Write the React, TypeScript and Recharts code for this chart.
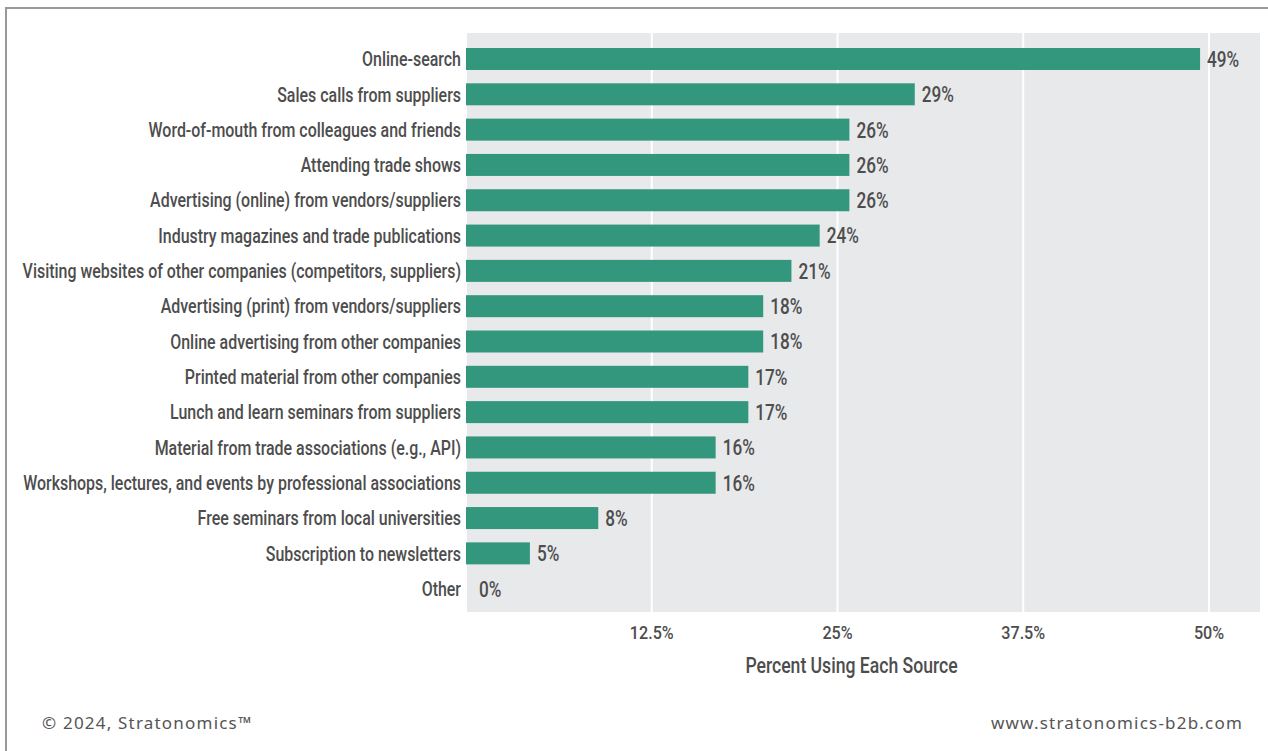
import { BarChart, Bar, XAxis, YAxis, CartesianGrid, LabelList } from 'recharts'

const categories = [
  'Online-search',
  'Sales calls from suppliers',
  'Word-of-mouth from colleagues and friends',
  'Attending trade shows',
  'Advertising (online) from vendors/suppliers',
  'Industry magazines and trade publications',
  'Visiting websites of other companies (competitors, suppliers)',
  'Advertising (print) from vendors/suppliers',
  'Online advertising from other companies',
  'Printed material from other companies',
  'Lunch and learn seminars from suppliers',
  'Material from trade associations (e.g., API)',
  'Workshops, lectures, and events by professional associations',
  'Free seminars from local universities',
  'Subscription to newsletters',
  'Other',
]

// bar lengths as drawn in the source picture
const barValues = [49.4, 30.2, 25.8, 25.8, 25.8, 23.8, 21.9, 20.0, 20.0, 19.0, 19.0, 16.8, 16.8, 8.9, 4.3, 0]

// printed value labels
const valueLabels = ['49%', '29%', '26%', '26%', '26%', '24%', '21%', '18%', '18%', '17%', '17%', '16%', '16%', '8%', '5%', '0%']

const xTicks = [12.5, 25, 37.5, 50]

// no condensed face is installed, so squeeze a regular one horizontally
const font = 'Roboto, "Liberation Sans", sans-serif'
const textColor = '#4d4d4d'
const barColor = '#33977e'

function CategoryTick(props: any) {
  const { x, y, payload } = props
  return (
    <g transform={`translate(${x},${y})`}>
      <text
        transform="scale(0.76,1)"
        textAnchor="end"
        dy="0.36em"
        fill={textColor}
        fontSize={21}
        fontWeight={500}
        fontFamily={font}
      >
        {payload.value}
      </text>
    </g>
  )
}

function PercentTick(props: any) {
  const { x, y, payload } = props
  return (
    <g transform={`translate(${x},${y})`}>
      <text
        transform="scale(0.85,1)"
        textAnchor="middle"
        dy="0.71em"
        fill={textColor}
        fontSize={19}
        fontWeight={500}
        fontFamily={font}
      >
        {`${payload.value}%`}
      </text>
    </g>
  )
}

function ValueLabel(props: any) {
  const { x, y, width, height, value } = props
  const w = Number(width) || 0
  // zero-length bars still get a label, a little off the axis
  const lx = Number(x) + (w > 2 ? w + 7 : 13)
  const ly = Number(y) + Number(height) / 2
  return (
    <g transform={`translate(${lx},${ly})`}>
      <text
        transform="scale(0.78,1)"
        textAnchor="start"
        dy="0.36em"
        fill={textColor}
        fontSize={22}
        fontWeight={500}
        fontFamily={font}
      >
        {value}
      </text>
    </g>
  )
}

function BarShape(props: any) {
  const { x, y, width, height, value } = props
  const v = Array.isArray(value) ? value[1] - value[0] : value
  if (!v) return <g />
  return <rect x={x} y={y} width={width} height={height} fill={barColor} />
}

function AxisTitle(props: any) {
  const { viewBox } = props
  const cx = viewBox.x + viewBox.width / 2 - 12
  const cy = viewBox.y + viewBox.height - 7
  return (
    <g transform={`translate(${cx},${cy})`}>
      <text
        transform="scale(0.8,1)"
        textAnchor="middle"
        dy="0.36em"
        fill={textColor}
        fontSize={22}
        fontWeight={500}
        fontFamily={font}
      >
        Percent Using Each Source
      </text>
    </g>
  )
}

export default function App() {
  const data = categories.map((name, i) => ({ name, value: barValues[i], label: valueLabels[i] }))

  return (
    <div style={{ position: 'absolute', left: 0, top: 0, width: 1268, height: 751, background: '#fff', overflow: 'hidden' }}>
      <div
        style={{
          position: 'absolute',
          left: 5,
          top: 7,
          width: 1300,
          height: 800,
          borderLeft: '2px solid #999',
          borderTop: '2px solid #999',
        }}
      />
      <div style={{ position: 'absolute', left: 0, top: 0 }}>
        <BarChart
          width={1268}
          height={751}
          data={data}
          layout="vertical"
          margin={{ top: 33, right: 7, left: 0, bottom: 79 }}
        >
          <CartesianGrid horizontal={false} fill="#e8e9eb" stroke="#ffffff" strokeWidth={2} />
          <XAxis
            type="number"
            domain={[0, 53.5]}
            ticks={xTicks}
            axisLine={false}
            tickLine={false}
            tickSize={0}
            tickMargin={13}
            height={60}
            tick={<PercentTick />}
            label={<AxisTitle />}
          />
          <YAxis
            type="category"
            dataKey="name"
            width={466}
            interval={0}
            axisLine={false}
            tickLine={false}
            tickSize={0}
            tickMargin={5}
            padding={{ top: 8, bottom: 6 }}
            tick={<CategoryTick />}
          />
          <Bar
            dataKey="value"
            fill={barColor}
            barSize={22}
            minPointSize={1}
            shape={<BarShape />}
            isAnimationActive={false}
          >
            <LabelList dataKey="label" content={<ValueLabel />} />
          </Bar>
        </BarChart>
      </div>
      <div
        style={{
          position: 'absolute',
          left: 42,
          top: 711,
          fontFamily: '"Noto Sans", sans-serif',
          fontSize: 17,
          color: '#555',
          letterSpacing: 1.2,
        }}
      >
        © 2024, Stratonomics™
      </div>
      <div
        style={{
          position: 'absolute',
          right: 25,
          top: 711,
          fontFamily: '"Noto Sans", sans-serif',
          fontSize: 17,
          color: '#555',
          letterSpacing: 1.2,
        }}
      >
        www.stratonomics-b2b.com
      </div>
    </div>
  )
}
